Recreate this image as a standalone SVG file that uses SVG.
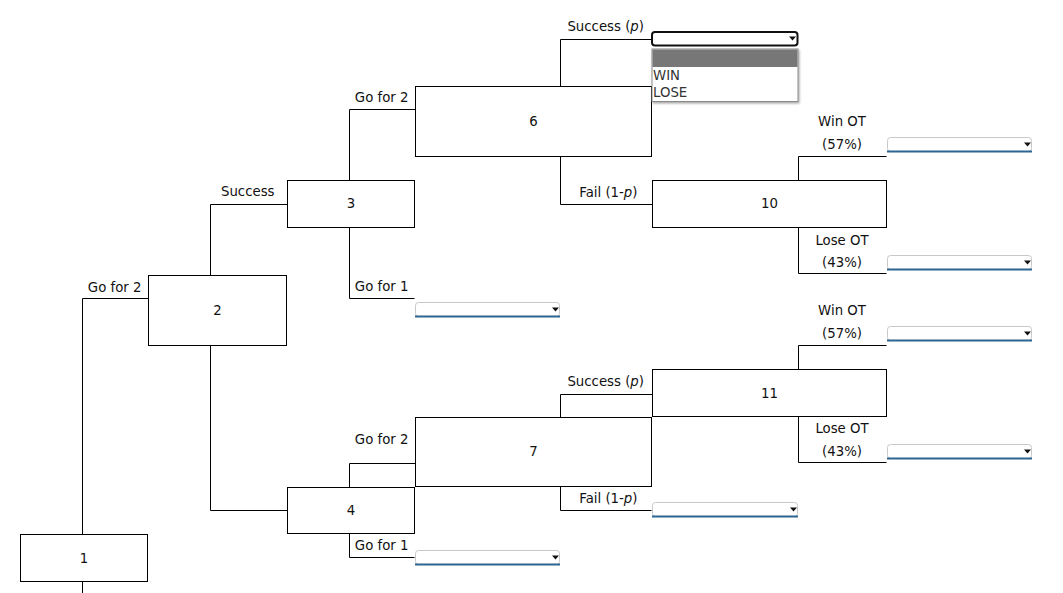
<svg xmlns="http://www.w3.org/2000/svg" width="1063" height="593" viewBox="0 0 1063 593">
<defs>
<style>
text{font-family:"DejaVu Sans","Verdana",sans-serif;font-size:13.3px;fill:#111}
.box{fill:#fff;stroke:#000;stroke-width:1}
.num{text-anchor:middle}
.lbl-end{text-anchor:end}
.lbl-mid{text-anchor:middle}
.conn{fill:none;stroke:#000;stroke-width:1}
.sel{fill:#fff;stroke:#c8c8c8;stroke-width:1}
.selline{stroke:#2b6592;stroke-width:2}
.arr{fill:#111}
.opt{fill:#333}
</style>
<filter id="sh" x="-10%" y="-10%" width="130%" height="140%">
<feDropShadow dx="1" dy="1.5" stdDeviation="1.2" flood-color="#000" flood-opacity="0.35"/>
</filter>
</defs>
<rect width="1063" height="593" fill="#fff"/>

<g id="connectors">
<path class="conn" d="M82.5 534.5 V298.5 H148.5"/>
<path class="conn" d="M82.5 581.5 V593"/>
<path class="conn" d="M210.5 275.5 V204.5 H287.5"/>
<path class="conn" d="M210.5 345.5 V510.5 H287.5"/>
<path class="conn" d="M349.5 180.5 V109.5 H415.5"/>
<path class="conn" d="M349.5 227.5 V298.5 H414.5"/>
<path class="conn" d="M560.5 86.5 V39.5 H651.5"/>
<path class="conn" d="M560.5 156.5 V204.5 H652.5"/>
<path class="conn" d="M798.5 180.5 V156.5 H886.5"/>
<path class="conn" d="M798.5 227.5 V273.5 H886.5"/>
<path class="conn" d="M349.5 487.5 V463.5 H415.5"/>
<path class="conn" d="M349.5 533.5 V557.5 H414.5"/>
<path class="conn" d="M560.5 417.5 V394.5 H652.5"/>
<path class="conn" d="M560.5 486.5 V510.5 H651.5"/>
<path class="conn" d="M798.5 369.5 V345.5 H886.5"/>
<path class="conn" d="M798.5 416.5 V462.5 H886.5"/>
</g>

<g id="labels">
<text class="lbl-end" x="141.5" y="291.5">Go for 2</text>
<text class="lbl-end" x="274.5" y="196">Success</text>
<text class="lbl-end" x="408.5" y="102">Go for 2</text>
<text class="lbl-end" x="408.5" y="291">Go for 1</text>
<text class="lbl-end" x="644" y="31">Success (<tspan font-style="italic">p</tspan>)</text>
<text class="lbl-end" x="637.5" y="197">Fail (1-<tspan font-style="italic">p</tspan>)</text>
<text class="lbl-mid" x="842" y="126">Win OT</text>
<text class="lbl-mid" x="842" y="149">(57%)</text>
<text class="lbl-mid" x="842" y="244.5">Lose OT</text>
<text class="lbl-mid" x="842" y="267">(43%)</text>
<text class="lbl-end" x="408.5" y="444">Go for 2</text>
<text class="lbl-end" x="408.5" y="550">Go for 1</text>
<text class="lbl-end" x="644" y="386">Success (<tspan font-style="italic">p</tspan>)</text>
<text class="lbl-end" x="637.5" y="502.5">Fail (1-<tspan font-style="italic">p</tspan>)</text>
<text class="lbl-mid" x="842" y="315">Win OT</text>
<text class="lbl-mid" x="842" y="338">(57%)</text>
<text class="lbl-mid" x="842" y="433">Lose OT</text>
<text class="lbl-mid" x="842" y="456">(43%)</text>
</g>

<g id="node1"><rect class="box" x="20.5" y="534.5" width="127" height="47"/><text class="num" x="84" y="562.5">1</text></g>
<g id="node2"><rect class="box" x="148.5" y="275.5" width="138" height="70"/><text class="num" x="217.5" y="315">2</text></g>
<g id="node3"><rect class="box" x="287.5" y="180.5" width="127" height="47"/><text class="num" x="351" y="208">3</text></g>
<g id="node4"><rect class="box" x="287.5" y="487.5" width="127" height="46"/><text class="num" x="351" y="514.5">4</text></g>
<g id="node6"><rect class="box" x="415.5" y="86.5" width="236" height="70"/><text class="num" x="533.5" y="126">6</text></g>
<g id="node7"><rect class="box" x="415.5" y="417.5" width="236" height="69"/><text class="num" x="533.5" y="456">7</text></g>
<g id="node10"><rect class="box" x="652.5" y="180.5" width="234" height="47"/><text class="num" x="769.5" y="208">10</text></g>
<g id="node11"><rect class="box" x="652.5" y="369.5" width="234" height="47"/><text class="num" x="769.5" y="397.5">11</text></g>

<g id="dropdowns">
<g id="dd-3-go1"><rect class="sel" x="415.5" y="302.5" width="144" height="14" rx="3"/><line class="selline" x1="415" y1="316.5" x2="560" y2="316.5"/><path class="arr" d="M552 307.5 h7 l-3.5 4 z"/></g>
<g id="dd-4-go1"><rect class="sel" x="415.5" y="550.5" width="144" height="14" rx="3"/><line class="selline" x1="415" y1="564.5" x2="560" y2="564.5"/><path class="arr" d="M552 555.5 h7 l-3.5 4 z"/></g>
<g id="dd-7-fail"><rect class="sel" x="652.5" y="502.5" width="145" height="14" rx="3"/><line class="selline" x1="652" y1="516.5" x2="798" y2="516.5"/><path class="arr" d="M790 507.5 h7 l-3.5 4 z"/></g>
<g id="dd-10-win"><rect class="sel" x="887.5" y="137.5" width="144" height="14" rx="3"/><line class="selline" x1="887" y1="151.5" x2="1032" y2="151.5"/><path class="arr" d="M1024 142.5 h7 l-3.5 4 z"/></g>
<g id="dd-10-lose"><rect class="sel" x="887.5" y="255.5" width="144" height="14" rx="3"/><line class="selline" x1="887" y1="269.5" x2="1032" y2="269.5"/><path class="arr" d="M1024 260.5 h7 l-3.5 4 z"/></g>
<g id="dd-11-win"><rect class="sel" x="887.5" y="326.5" width="144" height="14" rx="3"/><line class="selline" x1="887" y1="340.5" x2="1032" y2="340.5"/><path class="arr" d="M1024 331.5 h7 l-3.5 4 z"/></g>
<g id="dd-11-lose"><rect class="sel" x="887.5" y="444.5" width="144" height="14" rx="3"/><line class="selline" x1="887" y1="458.5" x2="1032" y2="458.5"/><path class="arr" d="M1024 449.5 h7 l-3.5 4 z"/></g>
<g id="dd-6-success">
<rect x="652" y="32" width="145.5" height="13.5" rx="3" fill="#fff" stroke="#111" stroke-width="2"/>
<path class="arr" d="M789 36.5 h7 l-3.5 4 z"/>
<g filter="url(#sh)"><rect x="652" y="49" width="146" height="52.5" fill="#fff" stroke="#8a8a8a" stroke-width="1"/></g>
<rect x="652.5" y="49.5" width="145" height="17.5" fill="#777"/>
<text class="opt" x="653" y="80">WIN</text>
<text class="opt" x="653" y="97">LOSE</text>
</g>
</g>
</svg>
